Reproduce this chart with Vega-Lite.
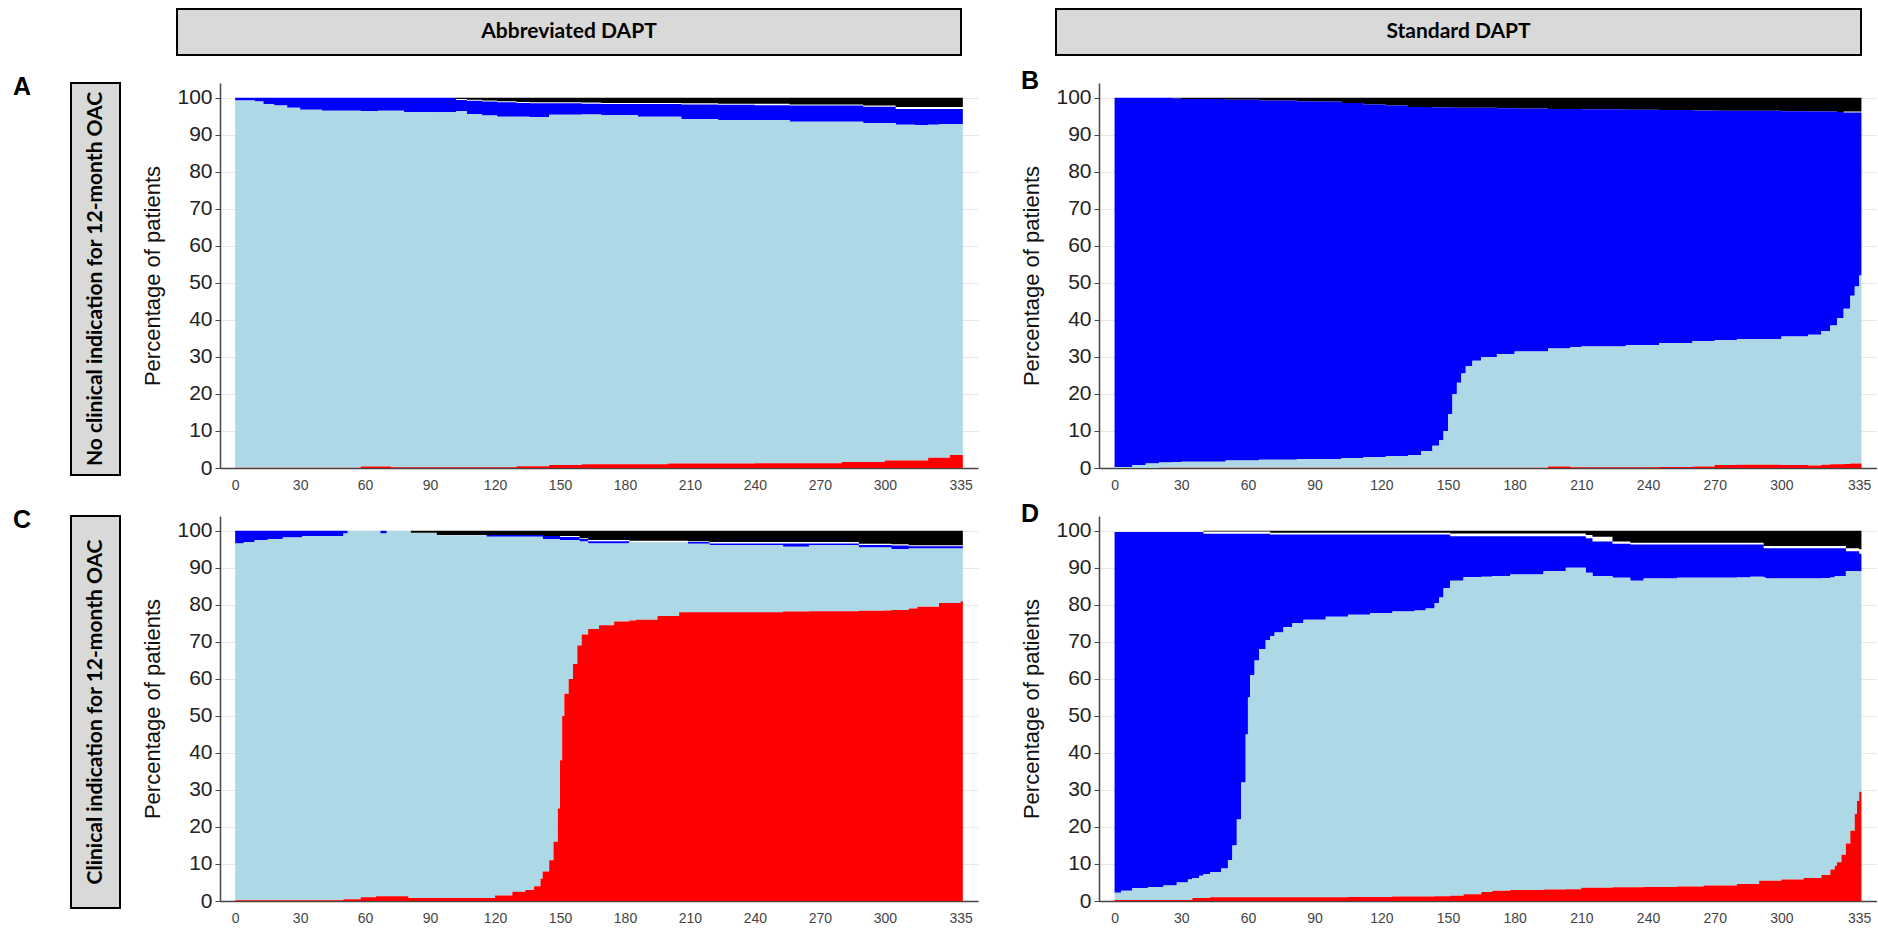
{
  "$schema": "https://vega.github.io/schema/vega-lite/v6.json",
  "padding": {"left": 12, "top": 8, "right": 0, "bottom": 0},
  "background": "white",
  "config": {
    "view": {"stroke": null},
    "font": "Liberation Sans",
    "axisY": {"labelFontSize": 21, "labelColor": "#222222", "tickColor": "#444444", "tickSize": 5, "labelPadding": 3, "domainColor": "#444444", "domainWidth": 1.5, "gridColor": "#e6e6e6", "grid": true, "titleFontSize": 22, "titleFontWeight": "normal", "titleColor": "#111111", "titlePadding": 12, "zindex": 0, "titleFont": "Liberation Sans", "labelFont": "Liberation Sans"},
    "axisX": {"labelFontSize": 14, "labelColor": "#444444", "ticks": false, "labelPadding": 10, "domainColor": "#444444", "domainWidth": 1.5, "grid": false, "zindex": 1, "labelFont": "Liberation Sans"},
    "title": {"fontSize": 25, "fontWeight": "bold", "font": "Liberation Sans", "anchor": "start", "frame": "bounds", "offset": -11, "color": "#000000"}
  },
  "datasets": {
    "A": [
      {"d":0,"r":0.1,"l":99.3,"b":100,"k":100},
      {"d":9,"r":0.1,"l":99.0,"b":100,"k":100},
      {"d":13,"r":0.1,"l":98.3,"b":100,"k":100},
      {"d":18,"r":0.1,"l":97.9,"b":100,"k":100},
      {"d":24,"r":0.1,"l":97.3,"b":100,"k":100},
      {"d":30,"r":0.1,"l":96.8,"b":100,"k":100},
      {"d":40,"r":0.1,"l":96.5,"b":100,"k":100},
      {"d":58,"r":0.4,"l":96.4,"b":100,"k":100},
      {"d":66,"r":0.4,"l":96.5,"b":100,"k":100},
      {"d":72,"r":0.2,"l":96.5,"b":100,"k":100},
      {"d":78,"r":0.2,"l":96.2,"b":100,"k":100},
      {"d":92,"r":0.2,"l":96.1,"b":100,"k":100},
      {"d":102,"r":0.2,"l":96.4,"b":99.4,"k":99.7},
      {"d":107,"r":0.2,"l":95.6,"b":99.2,"k":99.5},
      {"d":114,"r":0.2,"l":95.2,"b":99.0,"k":99.3},
      {"d":121,"r":0.2,"l":94.9,"b":98.8,"k":99.1},
      {"d":130,"r":0.5,"l":94.9,"b":98.6,"k":98.9},
      {"d":136,"r":0.5,"l":94.8,"b":98.5,"k":98.8},
      {"d":145,"r":0.8,"l":95.4,"b":98.5,"k":98.8},
      {"d":160,"r":1.0,"l":95.5,"b":98.4,"k":98.7},
      {"d":169,"r":1.0,"l":95.3,"b":98.3,"k":98.6},
      {"d":186,"r":1.0,"l":94.9,"b":98.3,"k":98.6},
      {"d":200,"r":1.2,"l":94.9,"b":98.3,"k":98.6},
      {"d":206,"r":1.2,"l":94.3,"b":98.2,"k":98.5},
      {"d":223,"r":1.2,"l":94.0,"b":98.1,"k":98.4},
      {"d":240,"r":1.3,"l":94.0,"b":98.0,"k":98.4},
      {"d":256,"r":1.3,"l":93.5,"b":97.9,"k":98.2},
      {"d":280,"r":1.6,"l":93.5,"b":97.9,"k":98.2},
      {"d":290,"r":1.6,"l":93.2,"b":97.6,"k":97.9},
      {"d":300,"r":2.0,"l":93.2,"b":97.6,"k":97.9},
      {"d":305,"r":2.0,"l":92.7,"b":97.0,"k":97.5},
      {"d":314,"r":2.0,"l":92.6,"b":97.0,"k":97.5},
      {"d":320,"r":2.8,"l":92.7,"b":97.0,"k":97.5},
      {"d":325,"r":2.8,"l":92.9,"b":97.0,"k":97.5},
      {"d":330,"r":3.5,"l":92.9,"b":97.0,"k":97.5},
      {"d":336,"r":3.5,"l":92.9,"b":97.0,"k":97.5}
    ],
    "B": [
      {"d":0,"r":0.0,"l":0.3,"b":100,"k":100},
      {"d":8,"r":0.0,"l":0.8,"b":100,"k":100},
      {"d":14,"r":0.0,"l":1.2,"b":100,"k":100},
      {"d":20,"r":0.1,"l":1.5,"b":100,"k":100},
      {"d":26,"r":0.1,"l":1.6,"b":99.8,"k":99.8},
      {"d":30,"r":0.1,"l":1.7,"b":99.7,"k":99.7},
      {"d":50,"r":0.1,"l":2.0,"b":99.5,"k":99.5},
      {"d":65,"r":0.1,"l":2.2,"b":99.3,"k":99.3},
      {"d":82,"r":0.1,"l":2.4,"b":99.0,"k":99.0},
      {"d":102,"r":0.1,"l":2.7,"b":98.6,"k":98.6},
      {"d":112,"r":0.1,"l":2.9,"b":98.2,"k":98.2},
      {"d":122,"r":0.1,"l":3.2,"b":97.9,"k":97.9},
      {"d":132,"r":0.1,"l":3.5,"b":97.5,"k":97.5},
      {"d":138,"r":0.1,"l":4.6,"b":97.5,"k":97.5},
      {"d":143,"r":0.1,"l":6.0,"b":97.4,"k":97.4},
      {"d":146,"r":0.1,"l":7.5,"b":97.4,"k":97.4},
      {"d":148,"r":0.1,"l":10.0,"b":97.4,"k":97.4},
      {"d":150,"r":0.1,"l":14.6,"b":97.4,"k":97.4},
      {"d":152,"r":0.1,"l":20.0,"b":97.3,"k":97.3},
      {"d":154,"r":0.1,"l":23.0,"b":97.3,"k":97.3},
      {"d":156,"r":0.1,"l":25.5,"b":97.3,"k":97.3},
      {"d":158,"r":0.1,"l":27.5,"b":97.3,"k":97.3},
      {"d":161,"r":0.1,"l":29.0,"b":97.3,"k":97.3},
      {"d":165,"r":0.1,"l":30.0,"b":97.3,"k":97.3},
      {"d":172,"r":0.1,"l":30.8,"b":97.2,"k":97.2},
      {"d":180,"r":0.1,"l":31.5,"b":97.1,"k":97.1},
      {"d":195,"r":0.4,"l":32.3,"b":97.0,"k":97.0},
      {"d":205,"r":0.2,"l":32.6,"b":97.0,"k":97.0},
      {"d":210,"r":0.2,"l":32.8,"b":96.9,"k":96.9},
      {"d":230,"r":0.2,"l":33.2,"b":96.8,"k":96.8},
      {"d":245,"r":0.3,"l":33.8,"b":96.7,"k":96.7},
      {"d":260,"r":0.4,"l":34.3,"b":96.6,"k":96.6},
      {"d":270,"r":0.8,"l":34.5,"b":96.5,"k":96.5},
      {"d":280,"r":0.9,"l":34.8,"b":96.5,"k":96.5},
      {"d":300,"r":0.8,"l":35.5,"b":96.4,"k":96.4},
      {"d":312,"r":0.7,"l":36.0,"b":96.3,"k":96.3},
      {"d":318,"r":0.9,"l":37.0,"b":96.3,"k":96.3},
      {"d":322,"r":1.0,"l":38.5,"b":96.3,"k":96.3},
      {"d":325,"r":1.0,"l":40.5,"b":96.2,"k":96.2},
      {"d":328,"r":1.1,"l":43.0,"b":96.0,"k":96.3},
      {"d":331,"r":1.2,"l":46.5,"b":96.0,"k":96.3},
      {"d":333,"r":1.2,"l":49.0,"b":96.0,"k":96.3},
      {"d":335,"r":1.2,"l":52.0,"b":96.0,"k":96.3},
      {"d":336,"r":1.2,"l":52.0,"b":96.0,"k":96.3}
    ],
    "C": [
      {"d":0,"r":0.2,"l":96.6,"b":100,"k":100},
      {"d":4,"r":0.2,"l":97.0,"b":100,"k":100},
      {"d":9,"r":0.2,"l":97.5,"b":100,"k":100},
      {"d":15,"r":0.2,"l":97.7,"b":100,"k":100},
      {"d":22,"r":0.2,"l":98.2,"b":100,"k":100},
      {"d":31,"r":0.2,"l":98.6,"b":100,"k":100},
      {"d":50,"r":0.5,"l":99.3,"b":100,"k":100},
      {"d":52,"r":0.5,"l":100,"b":100,"k":100},
      {"d":58,"r":1.0,"l":100,"b":100,"k":100},
      {"d":65,"r":1.3,"l":100,"b":100,"k":100},
      {"d":67,"r":1.3,"l":99.3,"b":100,"k":100},
      {"d":70,"r":1.3,"l":100,"b":100,"k":100},
      {"d":80,"r":0.8,"l":100,"b":100,"k":100},
      {"d":81,"r":0.8,"l":99.4,"b":99.4,"k":99.5},
      {"d":93,"r":0.8,"l":98.8,"b":98.8,"k":98.9},
      {"d":116,"r":0.8,"l":98.4,"b":98.9,"k":98.9},
      {"d":120,"r":1.5,"l":98.4,"b":98.9,"k":98.9},
      {"d":128,"r":2.5,"l":98.4,"b":98.9,"k":98.9},
      {"d":134,"r":3.0,"l":98.4,"b":98.9,"k":98.9},
      {"d":138,"r":4.0,"l":98.4,"b":98.9,"k":98.9},
      {"d":141,"r":6.0,"l":98.4,"b":98.9,"k":98.9},
      {"d":142,"r":8.0,"l":97.7,"b":98.6,"k":98.6},
      {"d":145,"r":11.0,"l":97.7,"b":98.6,"k":98.6},
      {"d":147,"r":16.0,"l":97.7,"b":98.6,"k":98.6},
      {"d":149,"r":25.0,"l":97.7,"b":98.6,"k":98.6},
      {"d":150,"r":38.0,"l":97.5,"b":98.3,"k":98.6},
      {"d":151,"r":50.0,"l":97.5,"b":98.3,"k":98.6},
      {"d":152,"r":56.0,"l":97.5,"b":98.3,"k":98.6},
      {"d":154,"r":60.0,"l":97.5,"b":98.3,"k":98.6},
      {"d":156,"r":64.0,"l":97.5,"b":98.3,"k":98.6},
      {"d":158,"r":69.0,"l":97.5,"b":98.3,"k":98.6},
      {"d":159,"r":69.0,"l":97.1,"b":97.8,"k":98.0},
      {"d":160,"r":72.0,"l":97.1,"b":97.8,"k":98.0},
      {"d":163,"r":73.5,"l":96.6,"b":97.2,"k":97.5},
      {"d":168,"r":74.5,"l":96.6,"b":97.2,"k":97.5},
      {"d":175,"r":75.5,"l":96.6,"b":97.2,"k":97.5},
      {"d":182,"r":75.8,"l":96.9,"b":96.9,"k":97.3},
      {"d":185,"r":76.0,"l":96.9,"b":96.9,"k":97.3},
      {"d":195,"r":77.0,"l":96.9,"b":96.9,"k":97.3},
      {"d":205,"r":78.0,"l":96.9,"b":96.9,"k":97.3},
      {"d":209,"r":78.0,"l":96.5,"b":97.0,"k":97.2},
      {"d":219,"r":78.0,"l":96.1,"b":96.6,"k":97.0},
      {"d":253,"r":78.2,"l":95.7,"b":96.6,"k":97.0},
      {"d":265,"r":78.3,"l":96.1,"b":96.6,"k":97.0},
      {"d":288,"r":78.4,"l":95.5,"b":96.2,"k":96.5},
      {"d":300,"r":78.5,"l":95.5,"b":96.2,"k":96.5},
      {"d":303,"r":78.6,"l":95.0,"b":96.0,"k":96.4},
      {"d":311,"r":79.0,"l":95.2,"b":95.8,"k":96.1},
      {"d":315,"r":79.5,"l":95.2,"b":95.8,"k":96.1},
      {"d":325,"r":80.5,"l":95.2,"b":95.8,"k":96.1},
      {"d":335,"r":81.0,"l":95.2,"b":95.8,"k":96.1},
      {"d":336,"r":81.0,"l":95.2,"b":95.8,"k":96.1}
    ],
    "D": [
      {"d":0,"r":0.3,"l":2.2,"b":99.7,"k":100},
      {"d":3,"r":0.3,"l":2.8,"b":99.7,"k":100},
      {"d":8,"r":0.3,"l":3.5,"b":99.7,"k":100},
      {"d":15,"r":0.3,"l":3.8,"b":99.7,"k":100},
      {"d":22,"r":0.3,"l":4.2,"b":99.7,"k":100},
      {"d":28,"r":0.3,"l":5.0,"b":99.7,"k":100},
      {"d":33,"r":0.3,"l":5.8,"b":99.7,"k":100},
      {"d":35,"r":0.8,"l":6.2,"b":99.7,"k":100},
      {"d":38,"r":0.8,"l":6.8,"b":99.7,"k":100},
      {"d":40,"r":0.8,"l":7.2,"b":99.2,"k":99.8},
      {"d":43,"r":1.0,"l":7.8,"b":99.2,"k":99.8},
      {"d":48,"r":1.0,"l":8.8,"b":99.2,"k":99.8},
      {"d":51,"r":1.0,"l":11.0,"b":99.2,"k":99.8},
      {"d":53,"r":1.0,"l":15.0,"b":99.2,"k":99.8},
      {"d":55,"r":1.0,"l":22.0,"b":99.2,"k":99.8},
      {"d":57,"r":1.0,"l":32.0,"b":99.2,"k":99.8},
      {"d":59,"r":1.0,"l":45.0,"b":99.2,"k":99.8},
      {"d":60,"r":1.0,"l":55.0,"b":99.2,"k":99.8},
      {"d":61,"r":1.0,"l":61.0,"b":99.2,"k":99.8},
      {"d":63,"r":1.0,"l":65.0,"b":99.2,"k":99.8},
      {"d":65,"r":1.0,"l":68.0,"b":99.2,"k":99.8},
      {"d":68,"r":1.0,"l":70.5,"b":99.2,"k":99.8},
      {"d":70,"r":1.0,"l":71.5,"b":99.0,"k":99.5},
      {"d":72,"r":1.0,"l":72.5,"b":99.0,"k":99.5},
      {"d":76,"r":1.0,"l":74.0,"b":99.0,"k":99.5},
      {"d":80,"r":1.0,"l":75.0,"b":99.0,"k":99.5},
      {"d":85,"r":1.0,"l":76.0,"b":99.0,"k":99.5},
      {"d":95,"r":1.0,"l":76.8,"b":99.0,"k":99.5},
      {"d":105,"r":1.1,"l":77.3,"b":99.0,"k":99.5},
      {"d":115,"r":1.1,"l":77.8,"b":99.0,"k":99.5},
      {"d":125,"r":1.2,"l":78.2,"b":99.0,"k":99.5},
      {"d":135,"r":1.2,"l":78.5,"b":99.0,"k":99.5},
      {"d":140,"r":1.2,"l":79.0,"b":99.0,"k":99.5},
      {"d":144,"r":1.3,"l":80.5,"b":99.0,"k":99.5},
      {"d":146,"r":1.3,"l":82.0,"b":99.0,"k":99.5},
      {"d":148,"r":1.3,"l":84.5,"b":99.0,"k":99.5},
      {"d":151,"r":1.4,"l":86.5,"b":98.5,"k":99.3},
      {"d":157,"r":1.8,"l":87.5,"b":98.5,"k":99.3},
      {"d":165,"r":2.4,"l":87.6,"b":98.5,"k":99.3},
      {"d":170,"r":2.8,"l":87.8,"b":98.5,"k":99.3},
      {"d":178,"r":3.0,"l":88.2,"b":98.5,"k":99.3},
      {"d":193,"r":3.1,"l":89.1,"b":98.5,"k":99.3},
      {"d":203,"r":3.2,"l":90.0,"b":98.5,"k":99.3},
      {"d":210,"r":3.6,"l":90.0,"b":98.5,"k":99.3},
      {"d":212,"r":3.6,"l":88.7,"b":98.0,"k":98.9},
      {"d":215,"r":3.6,"l":87.8,"b":97.1,"k":98.4},
      {"d":224,"r":3.7,"l":87.3,"b":96.5,"k":97.1},
      {"d":232,"r":3.7,"l":86.5,"b":96.3,"k":96.8},
      {"d":238,"r":3.8,"l":87.1,"b":96.3,"k":96.8},
      {"d":253,"r":3.9,"l":87.3,"b":96.3,"k":96.8},
      {"d":265,"r":4.2,"l":87.3,"b":96.3,"k":96.8},
      {"d":280,"r":4.6,"l":87.4,"b":96.3,"k":96.8},
      {"d":286,"r":4.6,"l":87.6,"b":96.3,"k":96.8},
      {"d":290,"r":5.5,"l":87.6,"b":96.3,"k":96.8},
      {"d":292,"r":5.5,"l":87.4,"b":95.3,"k":95.9},
      {"d":293,"r":5.5,"l":87.1,"b":95.3,"k":95.9},
      {"d":300,"r":5.8,"l":87.1,"b":95.3,"k":95.9},
      {"d":310,"r":6.2,"l":87.1,"b":95.3,"k":95.9},
      {"d":318,"r":7.0,"l":87.2,"b":95.3,"k":95.9},
      {"d":322,"r":8.5,"l":87.4,"b":95.3,"k":95.9},
      {"d":324,"r":9.5,"l":87.8,"b":95.3,"k":95.9},
      {"d":325,"r":10.5,"l":87.8,"b":95.3,"k":95.9},
      {"d":327,"r":12.5,"l":87.8,"b":95.3,"k":95.9},
      {"d":329,"r":15.5,"l":89.1,"b":94.5,"k":95.3},
      {"d":331,"r":19.0,"l":89.1,"b":94.5,"k":95.3},
      {"d":333,"r":23.5,"l":89.1,"b":94.5,"k":95.3},
      {"d":334,"r":27.0,"l":89.1,"b":94.5,"k":95.3},
      {"d":335,"r":29.5,"l":89.1,"b":93.8,"k":95.0},
      {"d":336,"r":29.5,"l":89.1,"b":93.8,"k":95.0}
    ]
  },
  "vconcat": [
    {
      "hconcat": [
        {"width": 12, "height": 46, "data": {"values": [{"t": ""}]}, "mark": {"type": "text"}, "encoding": {"text": {"field": "t"}}},
        {"width": 784, "height": 46, "view": {"fill": "#d9d9d9", "stroke": "#000000", "strokeWidth": 2}, "data": {"values": [{"t": "Abbreviated DAPT"}]}, "mark": {"type": "text", "font": "Lato", "fontWeight": "bold", "fontSize": 21, "color": "#000000"}, "encoding": {"text": {"field": "t"}}},
        {"width": 805, "height": 46, "view": {"fill": "#d9d9d9", "stroke": "#000000", "strokeWidth": 2}, "data": {"values": [{"t": "Standard DAPT"}]}, "mark": {"type": "text", "font": "Lato", "fontWeight": "bold", "fontSize": 21, "color": "#000000"}, "encoding": {"text": {"field": "t"}}}
      ],
      "spacing": 93
    },
    {
      "vconcat": [
        {
          "hconcat": [
            {"width": 49, "height": 392, "title": {"text": "A", "frame": "group", "dx": -58, "offset": -17}, "view": {"fill": "#d9d9d9", "stroke": "#000000", "strokeWidth": 2}, "data": {"values": [{"t": "No clinical indication for 12-month OAC"}]}, "mark": {"type": "text", "font": "Lato", "fontWeight": "bold", "fontSize": 21, "angle": 270, "color": "#000000"}, "encoding": {"text": {"field": "t"}}},
            {
              "hconcat": [
                {
                  "width": 758, "height": 385, "title": {"text": " "}, "data": {"name": "A"},
                  "encoding": {"x": {"field": "d", "type": "quantitative", "scale": {"domain": [-7, 343], "nice": false, "zero": false}, "axis": {"values": [0,30,60,90,120,150,180,210,240,270,300,335], "title": null}}},
                  "layer": [
                    {"mark": {"type": "area", "interpolate": "step-after", "color": "#000000"}, "encoding": {"y": {"field": "k", "type": "quantitative", "scale": {"domain": [0, 104], "nice": false}, "axis": {"values": [0,10,20,30,40,50,60,70,80,90,100], "title": "Percentage of patients"}}, "y2": {"datum": 100}}},
                    {"mark": {"type": "area", "interpolate": "step-after", "color": "#0000ff"}, "encoding": {"y": {"field": "b", "type": "quantitative", "axis": {"values": [0,10,20,30,40,50,60,70,80,90,100], "title": "Percentage of patients"}}, "y2": {"field": "l"}}},
                    {"mark": {"type": "area", "interpolate": "step-after", "color": "#add8e6"}, "encoding": {"y": {"field": "l", "type": "quantitative", "axis": {"values": [0,10,20,30,40,50,60,70,80,90,100], "title": "Percentage of patients"}}, "y2": {"field": "r"}}},
                    {"mark": {"type": "area", "interpolate": "step-after", "color": "#ff0000"}, "encoding": {"y": {"field": "r", "type": "quantitative", "axis": {"values": [0,10,20,30,40,50,60,70,80,90,100], "title": "Percentage of patients"}}, "y2": {"datum": 0}}}
                  ]
                },
                {
                  "width": 778, "height": 385, "title": {"text": "B"}, "data": {"name": "B"},
                  "encoding": {"x": {"field": "d", "type": "quantitative", "scale": {"domain": [-7, 343], "nice": false, "zero": false}, "axis": {"values": [0,30,60,90,120,150,180,210,240,270,300,335], "title": null}}},
                  "layer": [
                    {"mark": {"type": "area", "interpolate": "step-after", "color": "#000000"}, "encoding": {"y": {"field": "k", "type": "quantitative", "scale": {"domain": [0, 104], "nice": false}, "axis": {"values": [0,10,20,30,40,50,60,70,80,90,100], "title": "Percentage of patients"}}, "y2": {"datum": 100}}},
                    {"mark": {"type": "area", "interpolate": "step-after", "color": "#0000ff"}, "encoding": {"y": {"field": "b", "type": "quantitative", "axis": {"values": [0,10,20,30,40,50,60,70,80,90,100], "title": "Percentage of patients"}}, "y2": {"field": "l"}}},
                    {"mark": {"type": "area", "interpolate": "step-after", "color": "#add8e6"}, "encoding": {"y": {"field": "l", "type": "quantitative", "axis": {"values": [0,10,20,30,40,50,60,70,80,90,100], "title": "Percentage of patients"}}, "y2": {"field": "r"}}},
                    {"mark": {"type": "area", "interpolate": "step-after", "color": "#ff0000"}, "encoding": {"y": {"field": "r", "type": "quantitative", "axis": {"values": [0,10,20,30,40,50,60,70,80,90,100], "title": "Percentage of patients"}}, "y2": {"datum": 0}}}
                  ]
                }
              ],
              "spacing": 42
            }
          ],
          "spacing": 20
        },
        {
          "hconcat": [
            {"width": 49, "height": 392, "title": {"text": "C", "frame": "group", "dx": -58, "offset": -17}, "view": {"fill": "#d9d9d9", "stroke": "#000000", "strokeWidth": 2}, "data": {"values": [{"t": "Clinical indication for 12-month OAC"}]}, "mark": {"type": "text", "font": "Lato", "fontWeight": "bold", "fontSize": 21, "angle": 270, "color": "#000000"}, "encoding": {"text": {"field": "t"}}},
            {
              "hconcat": [
                {
                  "width": 758, "height": 385, "title": {"text": " "}, "data": {"name": "C"},
                  "encoding": {"x": {"field": "d", "type": "quantitative", "scale": {"domain": [-7, 343], "nice": false, "zero": false}, "axis": {"values": [0,30,60,90,120,150,180,210,240,270,300,335], "title": null}}},
                  "layer": [
                    {"mark": {"type": "area", "interpolate": "step-after", "color": "#000000"}, "encoding": {"y": {"field": "k", "type": "quantitative", "scale": {"domain": [0, 104], "nice": false}, "axis": {"values": [0,10,20,30,40,50,60,70,80,90,100], "title": "Percentage of patients"}}, "y2": {"datum": 100}}},
                    {"mark": {"type": "area", "interpolate": "step-after", "color": "#0000ff"}, "encoding": {"y": {"field": "b", "type": "quantitative", "axis": {"values": [0,10,20,30,40,50,60,70,80,90,100], "title": "Percentage of patients"}}, "y2": {"field": "l"}}},
                    {"mark": {"type": "area", "interpolate": "step-after", "color": "#add8e6"}, "encoding": {"y": {"field": "l", "type": "quantitative", "axis": {"values": [0,10,20,30,40,50,60,70,80,90,100], "title": "Percentage of patients"}}, "y2": {"field": "r"}}},
                    {"mark": {"type": "area", "interpolate": "step-after", "color": "#ff0000"}, "encoding": {"y": {"field": "r", "type": "quantitative", "axis": {"values": [0,10,20,30,40,50,60,70,80,90,100], "title": "Percentage of patients"}}, "y2": {"datum": 0}}}
                  ]
                },
                {
                  "width": 778, "height": 385, "title": {"text": "D"}, "data": {"name": "D"},
                  "encoding": {"x": {"field": "d", "type": "quantitative", "scale": {"domain": [-7, 343], "nice": false, "zero": false}, "axis": {"values": [0,30,60,90,120,150,180,210,240,270,300,335], "title": null}}},
                  "layer": [
                    {"mark": {"type": "area", "interpolate": "step-after", "color": "#000000"}, "encoding": {"y": {"field": "k", "type": "quantitative", "scale": {"domain": [0, 104], "nice": false}, "axis": {"values": [0,10,20,30,40,50,60,70,80,90,100], "title": "Percentage of patients"}}, "y2": {"datum": 100}}},
                    {"mark": {"type": "area", "interpolate": "step-after", "color": "#0000ff"}, "encoding": {"y": {"field": "b", "type": "quantitative", "axis": {"values": [0,10,20,30,40,50,60,70,80,90,100], "title": "Percentage of patients"}}, "y2": {"field": "l"}}},
                    {"mark": {"type": "area", "interpolate": "step-after", "color": "#add8e6"}, "encoding": {"y": {"field": "l", "type": "quantitative", "axis": {"values": [0,10,20,30,40,50,60,70,80,90,100], "title": "Percentage of patients"}}, "y2": {"field": "r"}}},
                    {"mark": {"type": "area", "interpolate": "step-after", "color": "#ff0000"}, "encoding": {"y": {"field": "r", "type": "quantitative", "axis": {"values": [0,10,20,30,40,50,60,70,80,90,100], "title": "Percentage of patients"}}, "y2": {"datum": 0}}}
                  ]
                }
              ],
              "spacing": 42
            }
          ],
          "spacing": 20
        }
      ],
      "spacing": 10
    }
  ],
  "spacing": 13
}
